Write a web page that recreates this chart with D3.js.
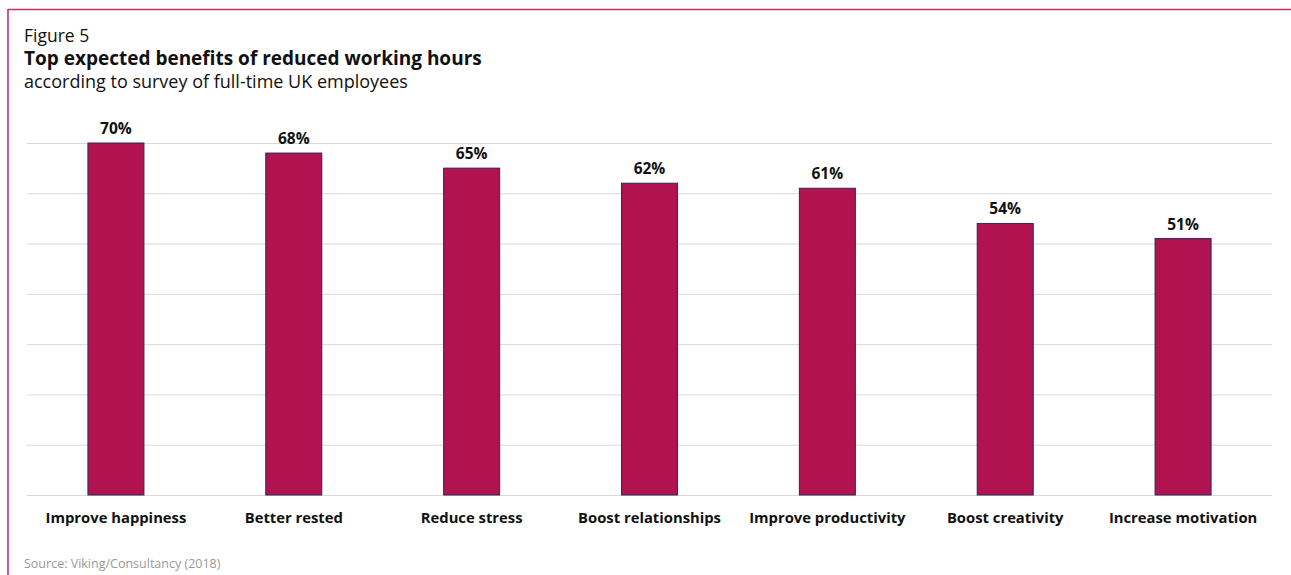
<!DOCTYPE html>
<html>
<head>
<meta charset="utf-8">
<script src="https://cdn.jsdelivr.net/npm/d3@7"></script>
<style>
  html, body { margin: 0; padding: 0; background: #fff; }
  svg { display: block; font-family: "Open Sans", "Noto Sans", sans-serif; }
</style>
</head>
<body>
<svg id="chart" width="1291" height="575"></svg>
<script>
// Survey results: share of full-time UK employees expecting each benefit
const categories = ["Improve happiness", "Better rested", "Reduce stress", "Boost relationships",
                    "Improve productivity", "Boost creativity", "Increase motivation"];
const values = [70, 68, 65, 62, 61, 54, 51];
const gridTicks = [0, 10, 20, 30, 40, 50, 60, 70];

const svg = d3.select("#chart");
const W = 1291, H = 575;
const plot = { left: 27, right: 1272, top: 143, bottom: 495 };

// Frame: rule along the top and left edge
svg.append("line").attr("x1", 8).attr("x2", W).attr("y1", 9.5).attr("y2", 9.5)
  .attr("stroke", "#C4306F").attr("stroke-width", 1.6);
svg.append("line").attr("x1", 8).attr("x2", 8).attr("y1", 9).attr("y2", H)
  .attr("stroke", "#C4306F").attr("stroke-width", 1.6);

// Heading block
svg.append("text").attr("x", 24).attr("y", 41.5).attr("font-size", 17.5).attr("fill", "#111")
  .text("Figure 5");
svg.append("text").attr("x", 24).attr("y", 65).attr("font-size", 19).attr("font-weight", "bold")
  .attr("fill", "#111").text("Top expected benefits of reduced working hours");
svg.append("text").attr("x", 24).attr("y", 87.5).attr("font-size", 18).attr("fill", "#111")
  .text("according to survey of full-time UK employees");

const x = d3.scaleBand().domain(categories).range([plot.left, plot.right]).paddingInner(0.685).paddingOuter(0.3425);
const y = d3.scaleLinear().domain([0, 70]).range([plot.bottom, plot.top]);

// Horizontal gridlines
svg.append("g").attr("transform", `translate(${plot.left},0)`)
  .call(d3.axisLeft(y).tickValues(gridTicks).tickSize(-(plot.right - plot.left)).tickFormat(""))
  .call(g => g.select(".domain").remove())
  .call(g => g.selectAll(".tick line").attr("stroke", "#d9d9d9").attr("stroke-width", 1));

// Bars
svg.append("g").selectAll("rect").data(values).join("rect")
  .attr("x", (d, i) => x(categories[i]))
  .attr("y", d => y(d))
  .attr("width", x.bandwidth())
  .attr("height", d => y(0) - y(d))
  .attr("fill", "#B0134F")
  .attr("stroke", "#2B2A5C")
  .attr("stroke-width", 1);

// Value labels
svg.append("g").selectAll("text").data(values).join("text")
  .attr("x", (d, i) => x(categories[i]) + x.bandwidth() / 2)
  .attr("y", d => y(d) - 9)
  .attr("text-anchor", "middle")
  .attr("font-size", 15.5).attr("font-weight", "bold").attr("fill", "#111")
  .text(d => d + "%");

// Category axis labels
svg.append("g").attr("transform", `translate(0,${plot.bottom})`)
  .call(d3.axisBottom(x).tickSize(0).tickPadding(17))
  .call(g => g.select(".domain").remove())
  .call(g => g.selectAll("text").attr("font-size", 14.8).attr("font-weight", "bold")
    .attr("fill", "#111").attr("font-family", "\"Open Sans\", \"Noto Sans\", sans-serif"));

// Source note
svg.append("text").attr("x", 24).attr("y", 568).attr("font-size", 12.5).attr("fill", "#999")
  .text("Source: Viking/Consultancy (2018)");
</script>
</body>
</html>
